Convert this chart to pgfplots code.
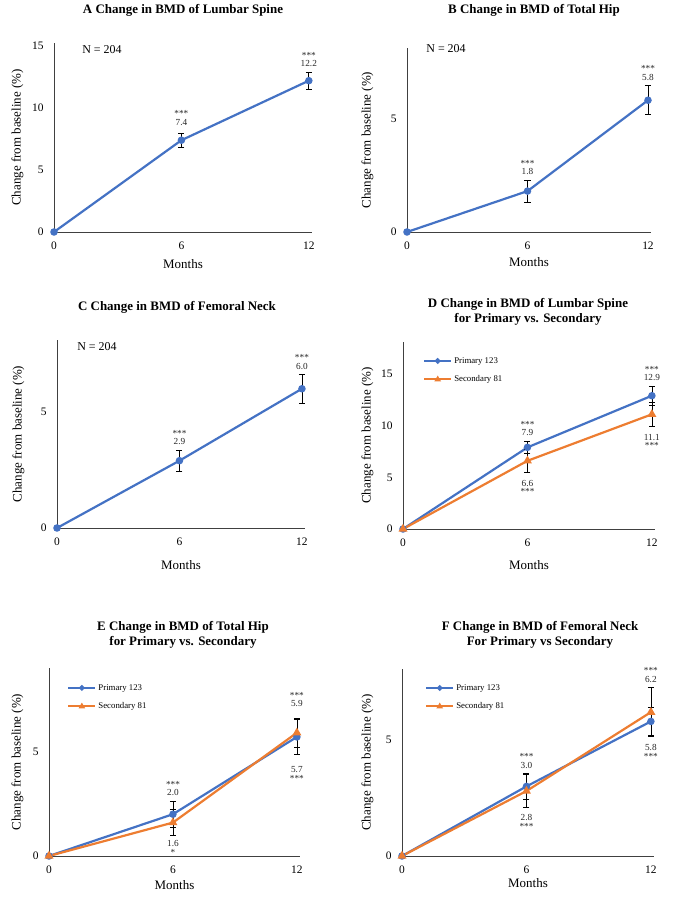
\documentclass[border=0pt]{standalone}
\usepackage{pgfplots}
\pgfplotsset{compat=1.18}
\usepackage{fontspec}
\setmainfont{Liberation Serif}
\definecolor{xblue}{HTML}{4472C4}
\definecolor{xorange}{HTML}{ED7D31}

\pgfplotsset{
  panel/.style={
    scale only axis, axis lines=left,
    axis line style={-, black!75, line width=0.8bp},
    xmin=0, xmax=12.15, ymin=0, xtick={0,6,12},
    major tick length=0pt,
    /pgf/number format/assume math mode=true,
    tick label style={font=\fontsize{11.5}{12}\selectfont},
    xticklabel style={yshift=-6bp},
    yticklabel style={xshift=-7bp},
    xlabel={Months}, ylabel={Change from baseline (\%)},
    every axis x label/.style={at={(axis description cs:0.5,0)}, anchor=north,
      font=\fontsize{13}{14}\selectfont},
    every axis y label/.style={at={(axis description cs:0,0.5)}, anchor=south, rotate=90,
      font=\fontsize{13}{14}\selectfont},
    clip=false,
    legend style={draw=none, fill=none, font=\fontsize{8.8}{9}\selectfont,
      anchor=north west, row sep=7bp, inner sep=0pt, cells={anchor=west}},
    legend image code/.code={\draw[mark repeat=2, mark phase=2, #1, mark size=1.6bp]
      plot coordinates {(0bp,0bp) (13.5bp,0bp) (27bp,0bp)};},
  },
  ebars/.style={error bars/.cd, y dir=both, y explicit, error mark=-,
    error bar style={draw=black, solid, line width=0.7bp},
    error mark options={rotate=90, draw=black, solid, line width=0.7bp, mark size=3bp}},
  pri/.style={xblue, line width=2.2bp, mark=*, mark size=2.6bp, mark options={solid}, ebars},
  sec/.style={xorange, line width=2.2bp, mark=triangle*, mark size=3bp, mark options={solid}, ebars},
}
\tikzset{
  lab/.style={font=\fontsize{9.3}{8.6}\selectfont, align=center, inner sep=1bp, text=black!85},
  up/.style={lab, anchor=south, yshift=4bp},
  dn/.style={lab, anchor=north, yshift=-6bp},
  nlab/.style={font=\fontsize{12}{13}\selectfont},
  ttl/.style={font=\bfseries\fontsize{13}{14.5}\selectfont, align=center},
}

\begin{document}
\begin{tikzpicture}
\path[use as bounding box] (0,0) rectangle (673bp,897bp);

\node[ttl] at (183bp,887bp) {A Change in BMD of Lumbar Spine};
\node[ttl] at (534bp,887bp) {B Change in BMD of Total Hip};
\node[ttl] at (177bp,590bp) {C Change in BMD of Femoral Neck};
\node[ttl] at (528bp,585bp) {D Change in BMD of Lumbar Spine\\for Primary vs. Secondary};
\node[ttl] at (183bp,262bp) {E Change in BMD of Total Hip\\for Primary vs. Secondary};
\node[ttl] at (540bp,262bp) {F Change in BMD of Femoral Neck\\For Primary vs Secondary};

% A
\begin{axis}[panel, at={(54bp,665bp)}, anchor=south west, width=258bp, height=189bp,
  ymax=15.24, ytick={0,5,10,15},
  xlabel style={yshift=-24bp}, ylabel style={yshift=27bp}]
\addplot[pri] coordinates {(0,0) (6,7.4) +- (0,0.55) (12,12.2) +- (0,0.7)};
\node[up, yshift=3bp] at (axis cs:6,7.95) {***\\7.4};
\node[up] at (axis cs:12,12.9) {***\\12.2};
\node[nlab] at (rel axis cs:0.186,0.963) {N = 204};
\end{axis}

% B
\begin{axis}[panel, at={(407bp,665bp)}, anchor=south west, width=244bp, height=184bp,
  ymax=8.1, ytick={0,5},
  xlabel style={yshift=-22bp}, ylabel style={yshift=30bp}]
\addplot[pri] coordinates {(0,0) (6,1.8) +- (0,0.48) (12,5.8) +- (0,0.64)};
\node[up] at (axis cs:6,2.28) {***\\1.8};
\node[up] at (axis cs:12,6.44) {***\\5.8};
\node[nlab] at (rel axis cs:0.16,0.995) {N = 204};
\end{axis}

% C
\begin{axis}[panel, at={(57bp,369bp)}, anchor=south west, width=248bp, height=188bp,
  ymax=8.1, ytick={0,5},
  xlabel style={yshift=-29bp}, ylabel style={yshift=29bp}]
\addplot[pri] coordinates {(0,0) (6,2.9) +- (0,0.45) (12,6.0) +- (0,0.62)};
\node[up] at (axis cs:6,3.35) {***\\2.9};
\node[up] at (axis cs:12,6.62) {***\\6.0};
\node[nlab] at (rel axis cs:0.161,0.963) {N = 204};
\end{axis}

% D
\begin{axis}[panel, at={(403bp,368bp)}, anchor=south west, width=252bp, height=187bp,
  ymax=18.1, ytick={0,5,10,15},
  xlabel style={yshift=-28bp}, ylabel style={yshift=26bp},
  legend style={at={(rel axis cs:0.079,0.93)}}]
\addplot[pri] coordinates {(0,0) (6,7.9) +- (0,0.6) (12,12.9) +- (0,0.95)};
\addlegendentry{Primary 123}
\addplot[sec] coordinates {(0,0) (6,6.6) +- (0,1.15) (12,11.1) +- (0,1.2)};
\addlegendentry{Secondary 81}
\node[up] at (axis cs:6,8.5) {***\\7.9};
\node[up] at (axis cs:12,13.85) {***\\12.9};
\node[dn] at (axis cs:6,5.45) {6.6\\***};
\node[dn] at (axis cs:12,9.9) {11.1\\***};
\end{axis}

% E
\begin{axis}[panel, at={(49bp,41bp)}, anchor=south west, width=251bp, height=188bp,
  ymax=9.0, ytick={0,5},
  xlabel style={yshift=-21bp}, ylabel style={yshift=22bp},
  legend style={at={(rel axis cs:0.072,0.925)}}]
\addplot[pri] coordinates {(0,0) (6,2.0) +- (0,0.62) (12,5.7) +- (0,0.85)};
\addlegendentry{Primary 123}
\addplot[sec] coordinates {(0,0) (6,1.6) +- (0,0.62) (12,5.9) +- (0,0.7)};
\addlegendentry{Secondary 81}
\node[up] at (axis cs:6,2.62) {***\\2.0};
\node[up, yshift=6bp] at (axis cs:12,6.6) {***\\5.9};
\node[dn, yshift=2bp] at (axis cs:6,0.98) {1.6\\*};
\node[dn, yshift=-5bp] at (axis cs:12,4.85) {5.7\\***};
\end{axis}

% F
\begin{axis}[panel, at={(402bp,41bp)}, anchor=south west, width=252bp, height=187bp,
  ymax=8.06, ytick={0,5},
  xlabel style={yshift=-19bp}, ylabel style={yshift=25bp},
  legend style={at={(rel axis cs:0.091,0.93)}}]
\addplot[pri] coordinates {(0,0) (6,3.0) +- (0,0.55) (12,5.8) +- (0,0.6)};
\addlegendentry{Primary 123}
\addplot[sec] coordinates {(0,0) (6,2.8) +- (0,0.7) (12,6.2) +- (0,1.05)};
\addlegendentry{Secondary 81}
\node[up] at (axis cs:6,3.55) {***\\3.0};
\node[up] at (axis cs:12,7.25) {***\\6.2};
\node[dn] at (axis cs:6,2.1) {2.8\\***};
\node[dn, yshift=-2bp] at (axis cs:12,5.2) {5.8\\***};
\end{axis}
\end{tikzpicture}
\end{document}
